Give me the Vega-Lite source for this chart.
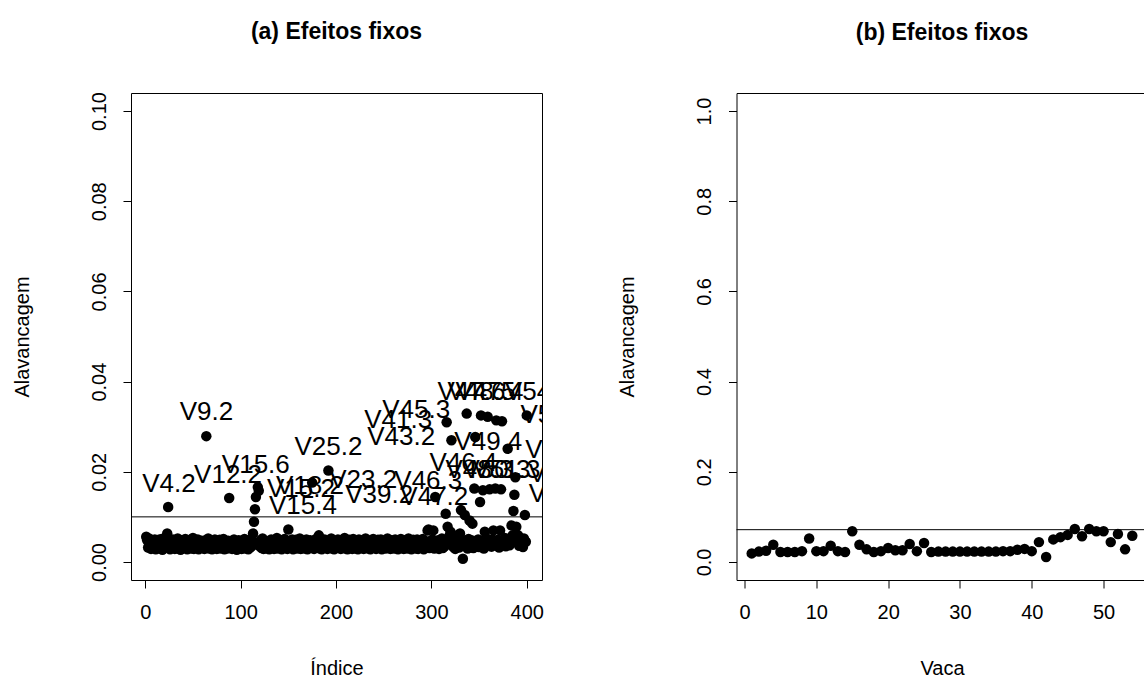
{
"$schema": "https://vega.github.io/schema/vega-lite/v6.json",
"background": "white",
"padding": {"left": 11, "top": 20, "right": 0, "bottom": 0},
"config": {
  "font": "Liberation Sans",
  "view": {"stroke": "black", "strokeWidth": 1},
  "axis": {"grid": false, "domain": false, "tickColor": "black", "tickSize": 8, "labelFontSize": 20, "labelColor": "black", "labelFont": "Liberation Sans", "titleFont": "Liberation Sans", "titleFontSize": 20, "titleFontWeight": "normal", "titleColor": "black"},
  "axisX": {"labelPadding": 14, "titlePadding": 36},
  "axisY": {"labelAngle": -90, "labelAlign": "center", "labelBaseline": "bottom", "labelPadding": 14, "titlePadding": 57},
  "title": {"font": "Liberation Sans", "fontSize": 23, "fontWeight": "bold", "color": "black", "offset": 48}
},
"datasets": {
  "lev": [
{"i":1,"h":0.0056},{"i":2,"h":0.0048},{"i":3,"h":0.0032},{"i":4,"h":0.0052},{"i":5,"h":0.0041},{"i":6,"h":0.0029},{"i":7,"h":0.0036},{"i":8,"h":0.0045},{"i":9,"h":0.0031},{"i":10,"h":0.0050},
{"i":11,"h":0.0028},{"i":12,"h":0.0042},{"i":13,"h":0.0034},{"i":14,"h":0.0049},{"i":15,"h":0.0030},{"i":16,"h":0.0038},{"i":17,"h":0.0051},{"i":18,"h":0.0027},{"i":19,"h":0.0044},{"i":20,"h":0.0033},
{"i":21,"h":0.0047},{"i":22,"h":0.0035},{"i":23,"h":0.0063},{"i":24,"h":0.0122},{"i":25,"h":0.0039},{"i":26,"h":0.0028},{"i":27,"h":0.0046},{"i":28,"h":0.0032},{"i":29,"h":0.0050},{"i":30,"h":0.0036},
{"i":31,"h":0.0029},{"i":32,"h":0.0043},{"i":33,"h":0.0037},{"i":34,"h":0.0052},{"i":35,"h":0.0030},{"i":36,"h":0.0040},{"i":37,"h":0.0027},{"i":38,"h":0.0048},{"i":39,"h":0.0034},{"i":40,"h":0.0045},
{"i":41,"h":0.0031},{"i":42,"h":0.0051},{"i":43,"h":0.0038},{"i":44,"h":0.0028},{"i":45,"h":0.0044},{"i":46,"h":0.0033},{"i":47,"h":0.0049},{"i":48,"h":0.0030},{"i":49,"h":0.0041},{"i":50,"h":0.0053},
{"i":51,"h":0.0029},{"i":52,"h":0.0036},{"i":53,"h":0.0046},{"i":54,"h":0.0032},{"i":55,"h":0.0050},{"i":56,"h":0.0028},{"i":57,"h":0.0042},{"i":58,"h":0.0035},{"i":59,"h":0.0047},{"i":60,"h":0.0031},
{"i":61,"h":0.0040},{"i":62,"h":0.0029},{"i":63,"h":0.0048},{"i":64,"h":0.0279},{"i":65,"h":0.0034},{"i":66,"h":0.0052},{"i":67,"h":0.0030},{"i":68,"h":0.0043},{"i":69,"h":0.0037},{"i":70,"h":0.0028},
{"i":71,"h":0.0045},{"i":72,"h":0.0032},{"i":73,"h":0.0050},{"i":74,"h":0.0036},{"i":75,"h":0.0029},{"i":76,"h":0.0041},{"i":77,"h":0.0033},{"i":78,"h":0.0049},{"i":79,"h":0.0030},{"i":80,"h":0.0044},
{"i":81,"h":0.0035},{"i":82,"h":0.0051},{"i":83,"h":0.0028},{"i":84,"h":0.0042},{"i":85,"h":0.0038},{"i":86,"h":0.0030},{"i":87,"h":0.0047},{"i":88,"h":0.0142},{"i":89,"h":0.0033},{"i":90,"h":0.0045},
{"i":91,"h":0.0029},{"i":92,"h":0.0039},{"i":93,"h":0.0050},{"i":94,"h":0.0031},{"i":95,"h":0.0043},{"i":96,"h":0.0027},{"i":97,"h":0.0036},{"i":98,"h":0.0048},{"i":99,"h":0.0032},{"i":100,"h":0.0040},
{"i":101,"h":0.0029},{"i":102,"h":0.0046},{"i":103,"h":0.0034},{"i":104,"h":0.0051},{"i":105,"h":0.0030},{"i":106,"h":0.0042},{"i":107,"h":0.0037},{"i":108,"h":0.0028},{"i":109,"h":0.0044},{"i":110,"h":0.0032},
{"i":111,"h":0.0050},{"i":112,"h":0.0036},{"i":113,"h":0.0063},{"i":114,"h":0.0089},{"i":115,"h":0.0117},{"i":116,"h":0.0144},{"i":117,"h":0.0042},{"i":118,"h":0.0166},{"i":119,"h":0.0158},{"i":120,"h":0.0035},
{"i":121,"h":0.0048},{"i":122,"h":0.0031},{"i":123,"h":0.0052},{"i":124,"h":0.0029},{"i":125,"h":0.0040},{"i":126,"h":0.0035},{"i":127,"h":0.0046},{"i":128,"h":0.0030},{"i":129,"h":0.0043},{"i":130,"h":0.0028},
{"i":131,"h":0.0038},{"i":132,"h":0.0050},{"i":133,"h":0.0032},{"i":134,"h":0.0045},{"i":135,"h":0.0029},{"i":136,"h":0.0041},{"i":137,"h":0.0036},{"i":138,"h":0.0053},{"i":139,"h":0.0030},{"i":140,"h":0.0044},
{"i":141,"h":0.0033},{"i":142,"h":0.0048},{"i":143,"h":0.0028},{"i":144,"h":0.0040},{"i":145,"h":0.0035},{"i":146,"h":0.0051},{"i":147,"h":0.0031},{"i":148,"h":0.0042},{"i":149,"h":0.0029},{"i":150,"h":0.0072},
{"i":151,"h":0.0037},{"i":152,"h":0.0046},{"i":153,"h":0.0032},{"i":154,"h":0.0050},{"i":155,"h":0.0028},{"i":156,"h":0.0043},{"i":157,"h":0.0034},{"i":158,"h":0.0049},{"i":159,"h":0.0030},{"i":160,"h":0.0041},
{"i":161,"h":0.0036},{"i":162,"h":0.0052},{"i":163,"h":0.0029},{"i":164,"h":0.0044},{"i":165,"h":0.0032},{"i":166,"h":0.0047},{"i":167,"h":0.0030},{"i":168,"h":0.0039},{"i":169,"h":0.0050},{"i":170,"h":0.0028},
{"i":171,"h":0.0042},{"i":172,"h":0.0035},{"i":173,"h":0.0048},{"i":174,"h":0.0031},{"i":175,"h":0.0176},{"i":176,"h":0.0045},{"i":177,"h":0.0029},{"i":178,"h":0.0038},{"i":179,"h":0.0051},{"i":180,"h":0.0033},
{"i":181,"h":0.0040},{"i":182,"h":0.0059},{"i":183,"h":0.0030},{"i":184,"h":0.0046},{"i":185,"h":0.0028},{"i":186,"h":0.0043},{"i":187,"h":0.0036},{"i":188,"h":0.0050},{"i":189,"h":0.0032},{"i":190,"h":0.0041},
{"i":191,"h":0.0029},{"i":192,"h":0.0203},{"i":193,"h":0.0044},{"i":194,"h":0.0034},{"i":195,"h":0.0052},{"i":196,"h":0.0030},{"i":197,"h":0.0047},{"i":198,"h":0.0028},{"i":199,"h":0.0039},{"i":200,"h":0.0045},
{"i":201,"h":0.0031},{"i":202,"h":0.0050},{"i":203,"h":0.0035},{"i":204,"h":0.0042},{"i":205,"h":0.0029},{"i":206,"h":0.0048},{"i":207,"h":0.0033},{"i":208,"h":0.0040},{"i":209,"h":0.0053},{"i":210,"h":0.0030},
{"i":211,"h":0.0044},{"i":212,"h":0.0028},{"i":213,"h":0.0037},{"i":214,"h":0.0049},{"i":215,"h":0.0032},{"i":216,"h":0.0041},{"i":217,"h":0.0029},{"i":218,"h":0.0051},{"i":219,"h":0.0036},{"i":220,"h":0.0043},
{"i":221,"h":0.0030},{"i":222,"h":0.0046},{"i":223,"h":0.0028},{"i":224,"h":0.0050},{"i":225,"h":0.0034},{"i":226,"h":0.0042},{"i":227,"h":0.0031},{"i":228,"h":0.0048},{"i":229,"h":0.0029},{"i":230,"h":0.0039},
{"i":231,"h":0.0052},{"i":232,"h":0.0033},{"i":233,"h":0.0044},{"i":234,"h":0.0030},{"i":235,"h":0.0047},{"i":236,"h":0.0028},{"i":237,"h":0.0040},{"i":238,"h":0.0035},{"i":239,"h":0.0051},{"i":240,"h":0.0032},
{"i":241,"h":0.0045},{"i":242,"h":0.0029},{"i":243,"h":0.0038},{"i":244,"h":0.0049},{"i":245,"h":0.0031},{"i":246,"h":0.0042},{"i":247,"h":0.0050},{"i":248,"h":0.0028},{"i":249,"h":0.0044},{"i":250,"h":0.0034},
{"i":251,"h":0.0047},{"i":252,"h":0.0030},{"i":253,"h":0.0039},{"i":254,"h":0.0052},{"i":255,"h":0.0032},{"i":256,"h":0.0043},{"i":257,"h":0.0029},{"i":258,"h":0.0048},{"i":259,"h":0.0036},{"i":260,"h":0.0041},
{"i":261,"h":0.0030},{"i":262,"h":0.0050},{"i":263,"h":0.0033},{"i":264,"h":0.0045},{"i":265,"h":0.0028},{"i":266,"h":0.0040},{"i":267,"h":0.0037},{"i":268,"h":0.0051},{"i":269,"h":0.0031},{"i":270,"h":0.0044},
{"i":271,"h":0.0029},{"i":272,"h":0.0048},{"i":273,"h":0.0035},{"i":274,"h":0.0042},{"i":275,"h":0.0030},{"i":276,"h":0.0052},{"i":277,"h":0.0032},{"i":278,"h":0.0046},{"i":279,"h":0.0028},{"i":280,"h":0.0039},
{"i":281,"h":0.0049},{"i":282,"h":0.0034},{"i":283,"h":0.0043},{"i":284,"h":0.0030},{"i":285,"h":0.0050},{"i":286,"h":0.0029},{"i":287,"h":0.0045},{"i":288,"h":0.0036},{"i":289,"h":0.0041},{"i":290,"h":0.0032},
{"i":291,"h":0.0051},{"i":292,"h":0.0028},{"i":293,"h":0.0047},{"i":294,"h":0.0038},{"i":295,"h":0.0044},{"i":296,"h":0.0070},{"i":297,"h":0.0072},{"i":298,"h":0.0031},{"i":299,"h":0.0046},{"i":300,"h":0.0033},
{"i":301,"h":0.0050},{"i":302,"h":0.0070},{"i":303,"h":0.0030},{"i":304,"h":0.0144},{"i":305,"h":0.0042},{"i":306,"h":0.0034},{"i":307,"h":0.0048},{"i":308,"h":0.0029},{"i":309,"h":0.0040},{"i":310,"h":0.0036},
{"i":311,"h":0.0052},{"i":312,"h":0.0031},{"i":313,"h":0.0044},{"i":314,"h":0.0035},{"i":315,"h":0.0107},{"i":316,"h":0.0310},{"i":317,"h":0.0078},{"i":318,"h":0.0046},{"i":319,"h":0.0058},{"i":320,"h":0.0067},
{"i":321,"h":0.0270},{"i":322,"h":0.0042},{"i":323,"h":0.0033},{"i":324,"h":0.0054},{"i":325,"h":0.0029},{"i":326,"h":0.0047},{"i":327,"h":0.0038},{"i":328,"h":0.0060},{"i":329,"h":0.0032},{"i":330,"h":0.0063},
{"i":331,"h":0.0115},{"i":332,"h":0.0049},{"i":333,"h":0.0007},{"i":334,"h":0.0036},{"i":335,"h":0.0104},{"i":336,"h":0.0044},{"i":337,"h":0.0329},{"i":338,"h":0.0030},{"i":339,"h":0.0051},{"i":340,"h":0.0092},
{"i":341,"h":0.0035},{"i":342,"h":0.0048},{"i":343,"h":0.0085},{"i":344,"h":0.0031},{"i":345,"h":0.0163},{"i":346,"h":0.0277},{"i":347,"h":0.0042},{"i":348,"h":0.0037},{"i":349,"h":0.0050},{"i":350,"h":0.0033},
{"i":351,"h":0.0133},{"i":352,"h":0.0325},{"i":353,"h":0.0046},{"i":354,"h":0.0159},{"i":355,"h":0.0030},{"i":356,"h":0.0067},{"i":357,"h":0.0043},{"i":358,"h":0.0052},{"i":359,"h":0.0322},{"i":360,"h":0.0038},
{"i":361,"h":0.0161},{"i":362,"h":0.0047},{"i":363,"h":0.0034},{"i":364,"h":0.0050},{"i":365,"h":0.0070},{"i":366,"h":0.0041},{"i":367,"h":0.0163},{"i":368,"h":0.0314},{"i":369,"h":0.0036},{"i":370,"h":0.0049},
{"i":371,"h":0.0032},{"i":372,"h":0.0070},{"i":373,"h":0.0161},{"i":374,"h":0.0312},{"i":375,"h":0.0045},{"i":376,"h":0.0039},{"i":377,"h":0.0053},{"i":378,"h":0.0035},{"i":379,"h":0.0048},{"i":380,"h":0.0251},
{"i":381,"h":0.0042},{"i":382,"h":0.0037},{"i":383,"h":0.0050},{"i":384,"h":0.0081},{"i":385,"h":0.0059},{"i":386,"h":0.0113},{"i":387,"h":0.0149},{"i":388,"h":0.0188},{"i":389,"h":0.0078},{"i":390,"h":0.0044},
{"i":391,"h":0.0059},{"i":392,"h":0.0036},{"i":393,"h":0.0051},{"i":394,"h":0.0040},{"i":395,"h":0.0047},{"i":396,"h":0.0033},{"i":397,"h":0.0052},{"i":398,"h":0.0104},{"i":399,"h":0.0045},{"i":400,"h":0.0325}
  ],
  "lab": [
{"t":"V4.2","x":24.8,"y":0.01736},{"t":"V9.2","x":64.1,"y":0.03326},{"t":"V12.2","x":86.8,"y":0.01922},{"t":"V15.6","x":115.9,"y":0.02144},
{"t":"V15.2","x":163.2,"y":0.01619},{"t":"V18.2","x":172.7,"y":0.01685},{"t":"V15.4","x":165.3,"y":0.01242},{"t":"V25.2","x":192.1,"y":0.0255},
{"t":"V23.2","x":228.4,"y":0.01818},{"t":"V39.2","x":245.2,"y":0.01486},{"t":"V46.3","x":296.7,"y":0.01796},{"t":"V47.2","x":303,"y":0.01441},
{"t":"V41.3","x":265.2,"y":0.03149},{"t":"V45.3","x":284.1,"y":0.0337},{"t":"V43.2","x":268.3,"y":0.02772},
{"t":"V47.6","x":342,"y":0.0377},{"t":"V48.5","x":352.4,"y":0.0377},{"t":"V47.4","x":360.8,"y":0.0377},{"t":"V54.2","x":412.6,"y":0.0377},
{"t":"V49.4","x":359.7,"y":0.0266},{"t":"V53.1","x":429,"y":0.0325},{"t":"V54.3","x":434,"y":0.0248},{"t":"V52.3","x":437.6,"y":0.0195},{"t":"V51.4","x":437.6,"y":0.0151},
{"t":"V46.4","x":333.5,"y":0.022},{"t":"V48.3","x":350.3,"y":0.0204},{"t":"V50.3","x":368.2,"y":0.0204},{"t":"V51.3","x":378.7,"y":0.0204}
  ],
  "vaca": [
{"v":1,"h":0.019},{"v":2,"h":0.023},{"v":3,"h":0.025},{"v":4,"h":0.038},{"v":5,"h":0.022},{"v":6,"h":0.022},{"v":7,"h":0.022},{"v":8,"h":0.024},{"v":9,"h":0.052},{"v":10,"h":0.024},
{"v":11,"h":0.024},{"v":12,"h":0.036},{"v":13,"h":0.024},{"v":14,"h":0.022},{"v":15,"h":0.068},{"v":16,"h":0.038},{"v":17,"h":0.028},{"v":18,"h":0.022},{"v":19,"h":0.024},{"v":20,"h":0.031},
{"v":21,"h":0.026},{"v":22,"h":0.026},{"v":23,"h":0.040},{"v":24,"h":0.024},{"v":25,"h":0.042},{"v":26,"h":0.022},{"v":27,"h":0.023},{"v":28,"h":0.023},{"v":29,"h":0.023},{"v":30,"h":0.023},
{"v":31,"h":0.023},{"v":32,"h":0.023},{"v":33,"h":0.023},{"v":34,"h":0.023},{"v":35,"h":0.023},{"v":36,"h":0.024},{"v":37,"h":0.024},{"v":38,"h":0.027},{"v":39,"h":0.029},{"v":40,"h":0.024},
{"v":41,"h":0.044},{"v":42,"h":0.011},{"v":43,"h":0.050},{"v":44,"h":0.055},{"v":45,"h":0.060},{"v":46,"h":0.073},{"v":47,"h":0.057},{"v":48,"h":0.073},{"v":49,"h":0.068},{"v":50,"h":0.068},
{"v":51,"h":0.044},{"v":52,"h":0.062},{"v":53,"h":0.028},{"v":54,"h":0.058}
  ]
},
"hconcat": [
  {
    "width": 411, "height": 487,
    "title": {"text": "(a) Efeitos fixos"},
    "layer": [
      {"data": {"name": "lev"}, "mark": {"type": "circle", "color": "black", "opacity": 1, "size": 110, "clip": true},
       "encoding": {
         "x": {"field": "i", "type": "quantitative", "scale": {"domain": [-14.96, 415.96], "nice": false, "zero": false}, "axis": {"values": [0, 100, 200, 300, 400], "title": "Índice"}},
         "y": {"field": "h", "type": "quantitative", "scale": {"domain": [-0.004, 0.104], "nice": false, "zero": false}, "axis": {"values": [0, 0.02, 0.04, 0.06, 0.08, 0.1], "format": ".2f", "title": "Alavancagem"}}
       }},
      {"data": {"values": [{}]}, "mark": {"type": "rule", "color": "black", "strokeWidth": 1}, "encoding": {"y": {"datum": 0.01}}},
      {"data": {"name": "lab"}, "mark": {"type": "text", "fontSize": 26, "color": "black", "clip": true, "font": "Liberation Sans"},
       "encoding": {"x": {"field": "x", "type": "quantitative"}, "y": {"field": "y", "type": "quantitative"}, "text": {"field": "t"}}}
    ]
  },
  {
    "width": 411, "height": 487,
    "title": {"text": "(b) Efeitos fixos"},
    "layer": [
      {"data": {"name": "vaca"}, "mark": {"type": "circle", "color": "black", "opacity": 1, "size": 110, "clip": true},
       "encoding": {
         "x": {"field": "v", "type": "quantitative", "scale": {"domain": [-1.12, 56.12], "nice": false, "zero": false}, "axis": {"values": [0, 10, 20, 30, 40, 50], "title": "Vaca"}},
         "y": {"field": "h", "type": "quantitative", "scale": {"domain": [-0.04, 1.04], "nice": false, "zero": false}, "axis": {"values": [0, 0.2, 0.4, 0.6, 0.8, 1], "format": ".1f", "title": "Alavancagem"}}
       }},
      {"data": {"values": [{}]}, "mark": {"type": "rule", "color": "black", "strokeWidth": 1}, "encoding": {"y": {"datum": 0.0716}}}
    ]
  }
],
"spacing": 194.5,
"bounds": "flush"
}
